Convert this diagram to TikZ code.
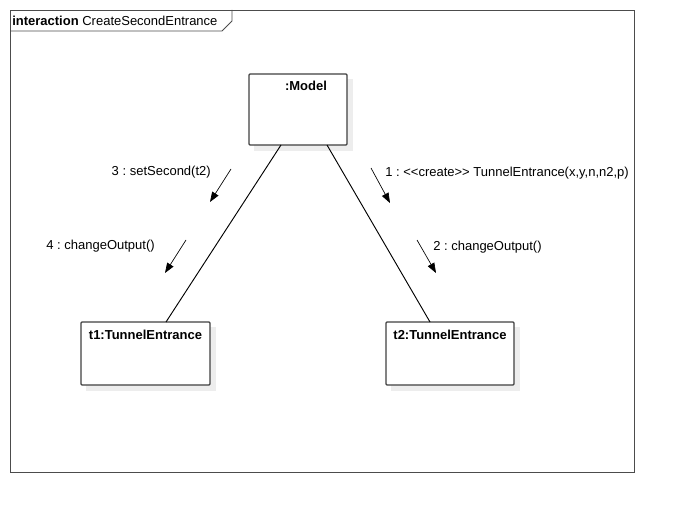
\documentclass[tikz,border=0pt]{standalone}
\usepackage{fontspec}
\setmainfont{Liberation Sans}
\frenchspacing
\usetikzlibrary{arrows.meta}
\newcommand{\lt}{<\kern0pt}
\newcommand{\gt}{>\kern0pt}
\begin{document}
\begin{tikzpicture}[x=0.75pt,y=-0.75pt,
  obj/.style={draw=black!75,line width=0.9pt,fill=white,rounded corners=0.8pt},
  shadowbox/.style={fill=black!7,draw=none},
  lbl/.style={font=\fontsize{9.75}{11}\selectfont,inner sep=0pt},
  title/.style={font=\fontsize{9.75}{11}\selectfont\bfseries,inner sep=0pt,anchor=north},
  link/.style={line width=0.7pt},
  msg/.style={line width=0.5pt,-{Triangle[length=7.5pt,width=5.5pt]}}]
\useasboundingbox (0,0) rectangle (674,513);
% frame
\draw[line width=0.6pt,draw=black!70] (10,10) rectangle (634,472);
\draw[line width=0.6pt,draw=black!70] (10,31) -- (222,31) -- (232,21) -- (232,10);
\node[lbl,anchor=west] (frametitle) at (12,20.5) {\textbf{interaction} CreateSecondEntrance};
% shadows
\fill[shadowbox] (254,79) rectangle (353,151);
\fill[shadowbox] (86,327) rectangle (216,391);
\fill[shadowbox] (391,327) rectangle (520,391);
% boxes
\draw[obj] (249,74) rectangle (347,145);
\draw[obj] (81,322) rectangle (210,385);
\draw[obj] (386,322) rectangle (514,385);
\node[title] (model) at (306,81) {:Model};
\node[title] (t1) at (145.5,329.5) {t1:TunnelEntrance};
\node[title] (t2) at (450,329.5) {t2:TunnelEntrance};
% link endpoints
\coordinate (mL) at (281,145);
\coordinate (mR) at (327,145);
\coordinate (t1T) at (166,322);
\coordinate (t2T) at (430,322);
\draw[link] (mL) -- (t1T);
\draw[link] (mR) -- (t2T);
% message arrows
\coordinate (a3s) at (231,169); \coordinate (a3e) at (210,202);
\coordinate (a4s) at (186,240); \coordinate (a4e) at (165,273);
\coordinate (a1s) at (371,168); \coordinate (a1e) at (390,203);
\coordinate (a2s) at (417,240); \coordinate (a2e) at (436,273);
\draw[msg] (a3s) -- (a3e);
\draw[msg] (a4s) -- (a4e);
\draw[msg] (a1s) -- (a1e);
\draw[msg] (a2s) -- (a2e);
\node[lbl,anchor=east] (m3) at (211,172.5) {3 : setSecond(t2)};
\node[lbl,anchor=east] (m4) at (155,246.5) {4 : changeOutput()};
\node[lbl,anchor=west] (m1) at (385,173.5) {1 : \lt\lt create\gt\gt{} TunnelEntrance(x,y,n,n2,p)};
\node[lbl,anchor=west] (m2) at (433,247.5) {2 : changeOutput()};
\end{tikzpicture}
\end{document}
